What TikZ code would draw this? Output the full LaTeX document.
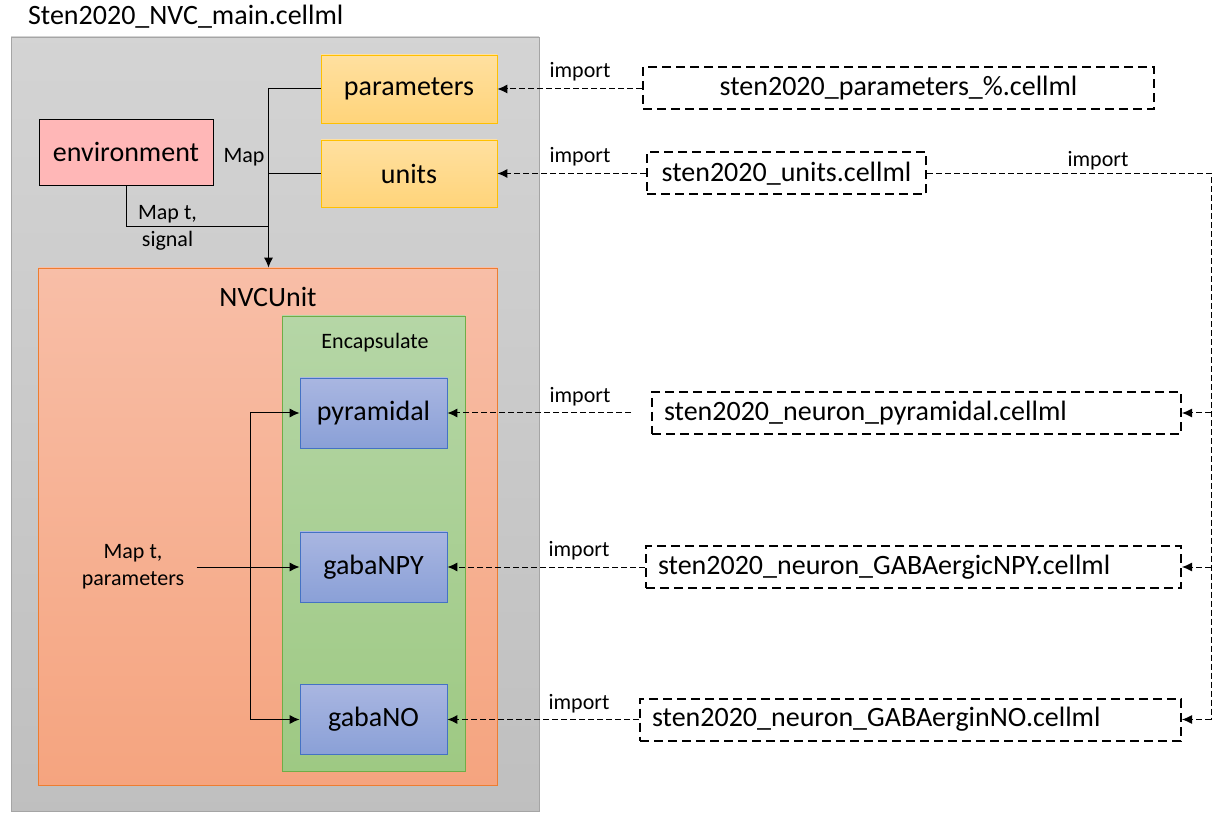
\documentclass[tikz,border=0pt]{standalone}
\usepackage{fontspec}
\setmainfont{Carlito}
\usetikzlibrary{arrows.meta}
\definecolor{grayedge}{HTML}{A5A5A5}
\definecolor{yellowedge}{HTML}{FFC000}
\definecolor{orangeedge}{HTML}{ED7D31}
\definecolor{greenedge}{HTML}{70AD47}
\definecolor{blueedge}{HTML}{4472C4}
\definecolor{envfill}{HTML}{FFB7B7}
\tikzset{
  big/.style={font=\fontsize{14}{16}\selectfont},
  small/.style={font=\fontsize{11}{13.5}\selectfont},
  box/.style={draw, inner sep=0pt, big},
  graybox/.style={box, draw=grayedge, top color=black!17, bottom color=black!25},
  yellowbox/.style={box, draw=yellowedge, top color={rgb,255:red,255;green,224;blue,160}, bottom color={rgb,255:red,255;green,212;blue,122}, minimum width=88pt},
  orangebox/.style={box, draw=orangeedge, top color={rgb,255:red,248;green,190;blue,167}, bottom color={rgb,255:red,245;green,164;blue,127}},
  greenbox/.style={box, draw=greenedge, top color={rgb,255:red,181;green,214;blue,166}, bottom color={rgb,255:red,158;green,201;blue,131}},
  bluebox/.style={box, draw=blueedge, top color={rgb,255:red,169;green,182;blue,225}, bottom color={rgb,255:red,138;green,160;blue,215}, minimum width=73.5pt, minimum height=35pt},
  filebox/.style={draw, line width=1pt, dash pattern=on 4.5pt off 2.5pt, inner sep=0pt, minimum height=21pt, big},
  neuronfile/.style={filebox, inner xsep=6pt, align=left},
  conn/.style={line width=0.5pt, -{Latex[length=5pt,width=4.5pt]}},
  line/.style={line width=0.5pt},
  imp/.style={conn, dash pattern=on 3pt off 1.5pt},
  impline/.style={line, dash pattern=on 3pt off 1.5pt},
}
\begin{document}
\begin{tikzpicture}[x=0.5pt, y=-0.5pt]
\useasboundingbox (0,0) rectangle (1224,822);

\node[big, anchor=west] (title) at (21,17) {Sten2020\_NVC\_main.cellml};
\node[graybox, minimum width=264pt, minimum height=387pt] (main) at (275,424) {};

\node[yellowbox, minimum height=34pt] (par) at (409,89) {parameters};
\node[yellowbox, minimum height=33.5pt] (units) at (409,173.5) {units};
\node[box, fill=envfill, minimum width=87pt, minimum height=33pt] (env) at (126,152) {environment};

\node[orangebox, minimum width=229.5pt, minimum height=258.5pt] (nvc) at (268,526.5) {};
\node[big] (nvcname) at (268,297) {NVCUnit};
\node[greenbox, minimum width=91.5pt, minimum height=227.5pt] (enc) at (373.5,543.5) {};
\node[small] (encname) at (375,343) {Encapsulate};

\node[bluebox] (pyr) at (373.5,413) {pyramidal};
\node[bluebox] (npy) at (373.5,567) {gabaNPY};
\node[bluebox] (no) at (373.5,719.5) {gabaNO};

\node[small] (map) at (244,157) {Map};
\node[small, align=center] (mapts) at (167.5,228) {Map t,\\signal};
\node[small, align=center, inner xsep=6pt] (maptp) at (133,567) {Map t,\\parameters};

\coordinate (bus) at (268.5,227);
\draw[line] (par.west) -| (bus);
\draw[line] (units.west) -- (units.west -| bus);
\draw[line] (env.south) |- (bus);
\draw[conn] (bus) -- (bus |- nvc.north);

\coordinate (nbus) at (250,567);
\draw[conn] (maptp.east) -- (npy.west);
\draw[conn] (nbus) |- (pyr.west);
\draw[conn] (nbus) |- (no.west);

\node[filebox, minimum width=255.5pt] (fpar) at (898.5,88) {sten2020\_parameters\_\%.cellml};
\node[filebox, minimum width=139.5pt] (funits) at (786.5,173.5) {sten2020\_units.cellml};
\node[neuronfile, text width=252.5pt] (fpyr) at (916.5,413) {sten2020\_neuron\_pyramidal.cellml};
\node[neuronfile, text width=255.5pt] (fnpy) at (913.5,567) {sten2020\_neuron\_GABAergicNPY.cellml};
\node[neuronfile, text width=258.5pt] (fno) at (910.5,719.5) {sten2020\_neuron\_GABAerginNO.cellml};

\draw[imp] (fpar.west |- par.east) -- (par.east);
\draw[imp] (funits.west) -- (units.east);
\draw[imp, shorten <=10pt] (fpyr.west) -- (pyr.east);
\draw[imp] (fnpy.west) -- (npy.east);
\draw[imp] (fno.west) -- (no.east);

\node[small] (imp1) at (580,72) {import};
\node[small] (imp2) at (580,157) {import};
\node[small] (imp3) at (580,397) {import};
\node[small] (imp4) at (579,551) {import};
\node[small] (imp5) at (579,704) {import};
\node[small] (imp6) at (1098,161) {import};

\coordinate (rbus) at (1211,173.5);
\draw[impline] (funits.east) -- (rbus) -- (rbus |- fno.east);
\draw[imp] (rbus |- fpyr.east) -- (fpyr.east);
\draw[imp] (rbus |- fnpy.east) -- (fnpy.east);
\draw[imp] (rbus |- fno.east) -- (fno.east);
\end{tikzpicture}
\end{document}
